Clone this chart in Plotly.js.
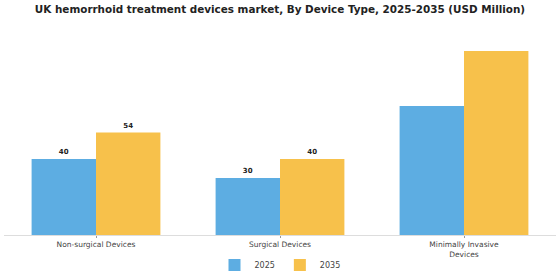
<!DOCTYPE html>
<html><head><meta charset="utf-8">
<script src="https://cdn.plot.ly/plotly-3.0.1.min.js"></script>
<style>html,body{margin:0;padding:0;background:#fff}#chart{width:560px;height:280px}</style>
</head><body><div id="chart"></div>
<script>
const categories = ["Non-surgical Devices", "Surgical Devices", "Minimally Invasive<br>Devices"];
const years = ["2025", "2035"];
const values2025 = [40, 30, 68];
const values2035 = [54, 40, 97];
const labels2025 = ["40", "30", ""];
const labels2035 = ["54", "40", ""];
const colors = ["#5DADE2", "#F7C14B"];

const mk = (name, y, txt, color) => ({
  type: "bar", name: name, x: categories, y: y,
  text: txt, textposition: "outside", cliponaxis: false,
  textfont: {family: "DejaVu Sans", size: 7, color: "#222", weight: "bold"},
  marker: {color: color}, hoverinfo: "skip"
});

const data = [
  mk(years[0], values2025, labels2025, colors[0]),
  mk(years[1], values2035, labels2035, colors[1])
];

const layout = {
  width: 560, height: 280,
  margin: {l: 4, r: 4, t: 30, b: 45},
  paper_bgcolor: "#fff", plot_bgcolor: "#fff",
  title: {text: "<b>UK hemorrhoid treatment devices market, By Device Type, 2025-2035 (USD Million)</b>",
    x: 0.5, xanchor: "center", y: 0.965, yanchor: "middle",
    font: {family: "DejaVu Sans", size: 10.4, color: "#222"}},
  barmode: "group", bargap: 0.3, bargroupgap: 0,
  xaxis: {showline: true, linecolor: "#ddd", linewidth: 1, ticks: "outside", ticklen: 2,
    tickcolor: "#999", showgrid: false, automargin: false,
    tickfont: {family: "DejaVu Sans", size: 7.5, color: "#444"}},
  yaxis: {range: [0, 108], visible: false, showgrid: false, zeroline: false},
  legend: {orientation: "h", xref: "container", yref: "container",
    x: 0.5, xanchor: "center", y: 0.054, yanchor: "middle",
    font: {family: "DejaVu Sans", size: 8, color: "#444"}},
  showlegend: true
};
Plotly.newPlot("chart", data, layout, {displayModeBar: false, staticPlot: true});
</script></body></html>
